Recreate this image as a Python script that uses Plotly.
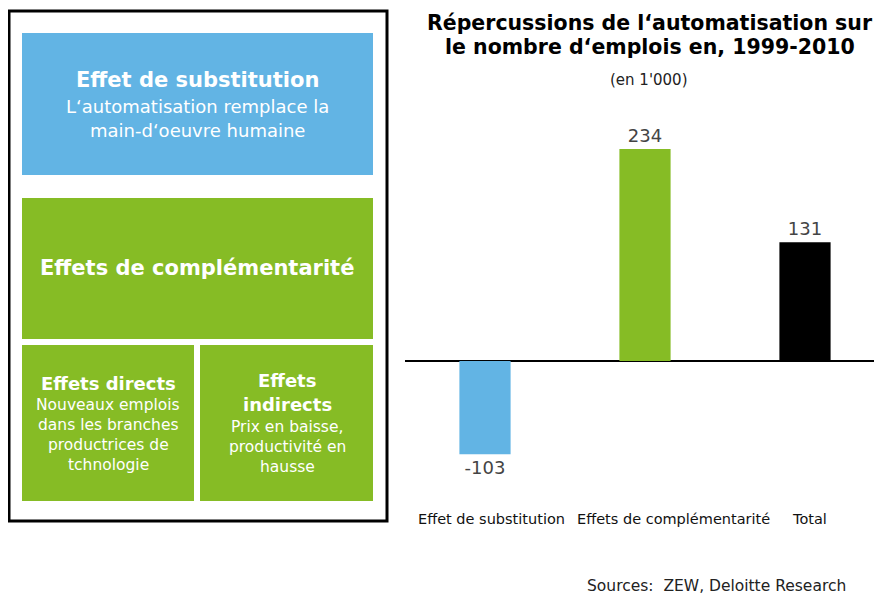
import plotly.graph_objects as go

categories = ["Effet de substitution", "Effets de complémentarité", "Total"]
values = [-103, 234, 131]
bar_colors = ["#62B4E4", "#86BC25", "#000000"]

title_lines = ["Répercussions de l‘automatisation sur", "le nombre d‘emplois en, 1999-2010"]
subtitle = "(en 1'000)"
source = "Sources:  ZEW, Deloitte Research"

FONT = "DejaVu Sans"
OFF = 8  # page body offset
W, H = 882 - OFF, 609 - OFF  # keep the figure inside the window (no scrollbars)
# plot area in figure pixels
L, R, T, B = 405 - OFF, 882 - OFF, 100 - OFF, 505 - OFF
ZERO = 361 - OFF
PX_PER_UNIT = 212 / 234

def px(x):  # reference pixel -> paper
    return (x - OFF - L) / (R - L)

def py(y):
    return (B - (y - OFF)) / (B - T)

fig = go.Figure()
fig.add_trace(go.Bar(
    x=categories, y=values,
    marker=dict(color=bar_colors, line=dict(width=0)),
    text=[str(v) for v in values], textposition="outside",
    textfont=dict(family=FONT, size=18, color="#444444"),
    cliponaxis=False, hoverinfo="skip",
))

shapes = []
def rect(x0, y0, x1, y1, fill, line=None, lw=0):
    shapes.append(dict(type="rect", xref="paper", yref="paper",
                       x0=px(x0), x1=px(x1), y0=py(y0), y1=py(y1),
                       fillcolor=fill, line=dict(color=line or fill, width=lw),
                       layer="below"))

rect(9, 11, 387, 521, "rgba(0,0,0,0)", "#000000", 3)
rect(22, 33, 373, 175, "#62B4E4")
rect(22, 198, 373, 339, "#86BC25")
rect(22, 345, 194, 501, "#86BC25")
rect(200, 345, 373, 501, "#86BC25")

ann = []
def text(x, y, s, size, bold=False, color="#FFFFFF", xanchor="center"):
    ann.append(dict(xref="paper", yref="paper", x=px(x), y=py(y), text=f"<b>{s}</b>" if bold else s,
                    showarrow=False, xanchor=xanchor, yanchor="middle",
                    font=dict(family=FONT, size=size, color=color)))

text(197, 80, "Effet de substitution", 21, True)
text(197, 106, "L‘automatisation remplace la", 18)
text(197, 130, "main-d‘oeuvre humaine", 18)
text(197, 268, "Effets de complémentarité", 21, True)
text(108, 383, "Effets directs", 18, True)
text(108, 405, "Nouveaux emplois", 15.5)
text(108, 425, "dans les branches", 15.5)
text(108, 445, "productrices de", 15.5)
text(108, 465, "tchnologie", 15.5)
text(287, 381, "Effets", 18, True)
text(287, 404, "indirects", 18, True)
text(287, 427, "Prix en baisse,", 15.5)
text(287, 447, "productivité en", 15.5)
text(287, 467, "hausse", 15.5)

text(650, 23, title_lines[0], 20.5, True, "#000000")
text(650, 47, title_lines[1], 20.5, True, "#000000")
text(649, 80, subtitle, 15, False, "#222222")
text(716, 586, source, 15.5, False, "#222222")

# category labels under the axis (shifted like the reference, where they crowd each other)
label_shift = [6, 28, 4]
for cat, sh in zip(categories, label_shift):
    ann.append(dict(xref="x", yref="paper", x=cat, y=py(519), text=cat, showarrow=False,
                    xanchor="center", yanchor="middle", xshift=sh,
                    font=dict(family=FONT, size=14.5, color="#111111")))

fig.update_layout(
    width=W, height=H,
    margin=dict(l=L, r=W - R, t=T, b=H - B, pad=0),
    paper_bgcolor="white", plot_bgcolor="white",
    showlegend=False, bargap=0.68,
    shapes=shapes, annotations=ann,
    font=dict(family=FONT),
    xaxis=dict(range=[-0.5, (R - L) / 160 - 0.5], showgrid=False, showline=False, ticks="",
               showticklabels=False, fixedrange=True),
    yaxis=dict(range=[-(B - ZERO) / PX_PER_UNIT, (ZERO - T) / PX_PER_UNIT], showgrid=False,
               showticklabels=False, zeroline=True, zerolinecolor="#000000", zerolinewidth=1.5,
               showline=False, fixedrange=True),
)

fig.write_html("out.html")
